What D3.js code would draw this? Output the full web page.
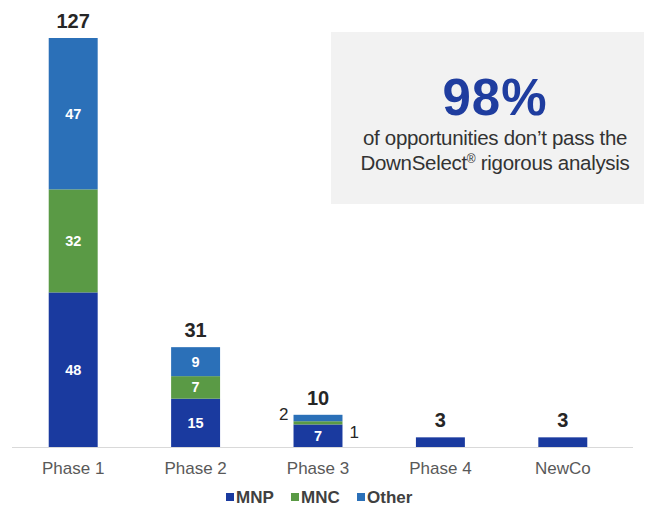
<!DOCTYPE html>
<html>
<head>
<meta charset="utf-8">
<script src="https://cdnjs.cloudflare.com/ajax/libs/d3/7.8.5/d3.min.js"></script>
<style>
  body { margin: 0; background: #fff; }
  svg { font-family: Arial, "Liberation Sans", sans-serif; }
</style>
</head>
<body>
<svg id="chart" width="645" height="514"></svg>
<script>
(function () {
    'use strict';

    var phases = ['Phase 1', 'Phase 2', 'Phase 3', 'Phase 4', 'NewCo'];
    var seriesNames = ['MNP', 'MNC', 'Other'];
    var mnp = [48, 15, 7, 3, 3];
    var mnc = [32, 7, 1, 0, 0];
    var other = [47, 9, 2, 0, 0];
    var totals = [127, 31, 10, 3, 3];
    var colors = ['#1a3a9f', '#5a9a45', '#2b70b8'];

    var svg = d3.select('#chart');

    var x = d3.scaleBand()
        .domain(phases)
        .range([12, 624])
        .paddingInner(0.6)
        .paddingOuter(0.3);

    var y = d3.scaleLinear()
        .domain([0, 127])
        .range([447, 38]);

    var rows = phases.map(function (p, i) {
        return { phase: p, MNP: mnp[i], MNC: mnc[i], Other: other[i] };
    });
    var stacked = d3.stack().keys(seriesNames)(rows);

    // callout box
    svg.append('rect')
        .attr('x', 331).attr('y', 32)
        .attr('width', 313).attr('height', 172)
        .attr('fill', '#f2f2f2');

    svg.append('text')
        .attr('x', 495).attr('y', 115)
        .attr('text-anchor', 'middle')
        .attr('font-size', 51).attr('font-weight', 'bold')
        .attr('letter-spacing', 1)
        .attr('fill', '#1f3d9f')
        .text('98%');

    svg.append('text')
        .attr('x', 495).attr('y', 145)
        .attr('text-anchor', 'middle')
        .attr('font-size', 20.5).attr('fill', '#333')
        .attr('letter-spacing', -0.3)
        .text('of opportunities don\u2019t pass the');

    var l2 = svg.append('text')
        .attr('x', 495).attr('y', 170)
        .attr('text-anchor', 'middle')
        .attr('font-size', 20.5).attr('fill', '#333')
        .attr('letter-spacing', -0.3);
    l2.append('tspan').text('DownSelect');
    l2.append('tspan').attr('font-size', 12).attr('dy', -7).text('\u00ae');
    l2.append('tspan').attr('dy', 7).text(' rigorous analysis');

    // baseline
    svg.append('line')
        .attr('x1', 12).attr('x2', 633)
        .attr('y1', 447.5).attr('y2', 447.5)
        .attr('stroke', '#d9d9d9').attr('stroke-width', 1);

    // bars
    var layers = svg.append('g').selectAll('g')
        .data(stacked)
        .enter().append('g')
        .attr('fill', function (d, i) { return colors[i]; });

    layers.selectAll('rect')
        .data(function (d) { return d; })
        .enter().append('rect')
        .attr('x', function (d) { return x(d.data.phase); })
        .attr('width', x.bandwidth())
        .attr('y', function (d) { return y(d[1]); })
        .attr('height', function (d) { return y(d[0]) - y(d[1]); });

    // segment labels
    stacked.forEach(function (layer) {
        layer.forEach(function (d, i) {
            var v = d[1] - d[0];
            if (v <= 0) return;
            var h = y(d[0]) - y(d[1]);
            var cx = x(d.data.phase) + x.bandwidth() / 2;
            if (h >= 18) {
                svg.append('text')
                    .attr('x', cx)
                    .attr('y', (y(d[0]) + y(d[1])) / 2 + 5)
                    .attr('text-anchor', 'middle')
                    .attr('font-size', 14.5).attr('font-weight', 'bold')
                    .attr('fill', '#fff')
                    .text(v);
            } else if (i === 2) {
                // Phase 3 small segments: label outside
                var left = layer.key === 'Other';
                svg.append('text')
                    .attr('x', left ? x(d.data.phase) - 5 : x(d.data.phase) + x.bandwidth() + 7)
                    .attr('y', left ? y(d[1]) + 5 : y(d[1]) + 17)
                    .attr('text-anchor', left ? 'end' : 'start')
                    .attr('font-size', 17)
                    .attr('fill', '#262626')
                    .text(v);
            }
        });
    });

    // totals
    svg.append('g').selectAll('text')
        .data(phases)
        .enter().append('text')
        .attr('x', function (d) { return x(d) + x.bandwidth() / 2; })
        .attr('y', function (d, i) { return y(totals[i]) - 10; })
        .attr('text-anchor', 'middle')
        .attr('font-size', 20).attr('font-weight', 'bold')
        .attr('fill', '#262626')
        .text(function (d, i) { return totals[i]; });

    // category axis
    var axis = svg.append('g')
        .attr('transform', 'translate(0,447)')
        .call(d3.axisBottom(x).tickSize(0).tickPadding(15));
    axis.select('.domain').remove();
    axis.selectAll('text')
        .attr('font-size', 17)
        .attr('font-family', 'Arial, "Liberation Sans", sans-serif')
        .attr('fill', '#595959');

    // legend
    var legendX = [226, 291, 357];
    var legend = svg.append('g').selectAll('g')
        .data(seriesNames)
        .enter().append('g')
        .attr('transform', function (d, i) { return 'translate(' + legendX[i] + ',497)'; });
    legend.append('rect')
        .attr('x', 0).attr('y', -4)
        .attr('width', 8).attr('height', 8)
        .attr('fill', function (d, i) { return colors[i]; });
    legend.append('text')
        .attr('x', 10).attr('y', 6)
        .attr('font-size', 17).attr('font-weight', 'bold')
        .attr('fill', '#404040')
        .text(function (d) { return d; });
}());
</script>
</body>
</html>
